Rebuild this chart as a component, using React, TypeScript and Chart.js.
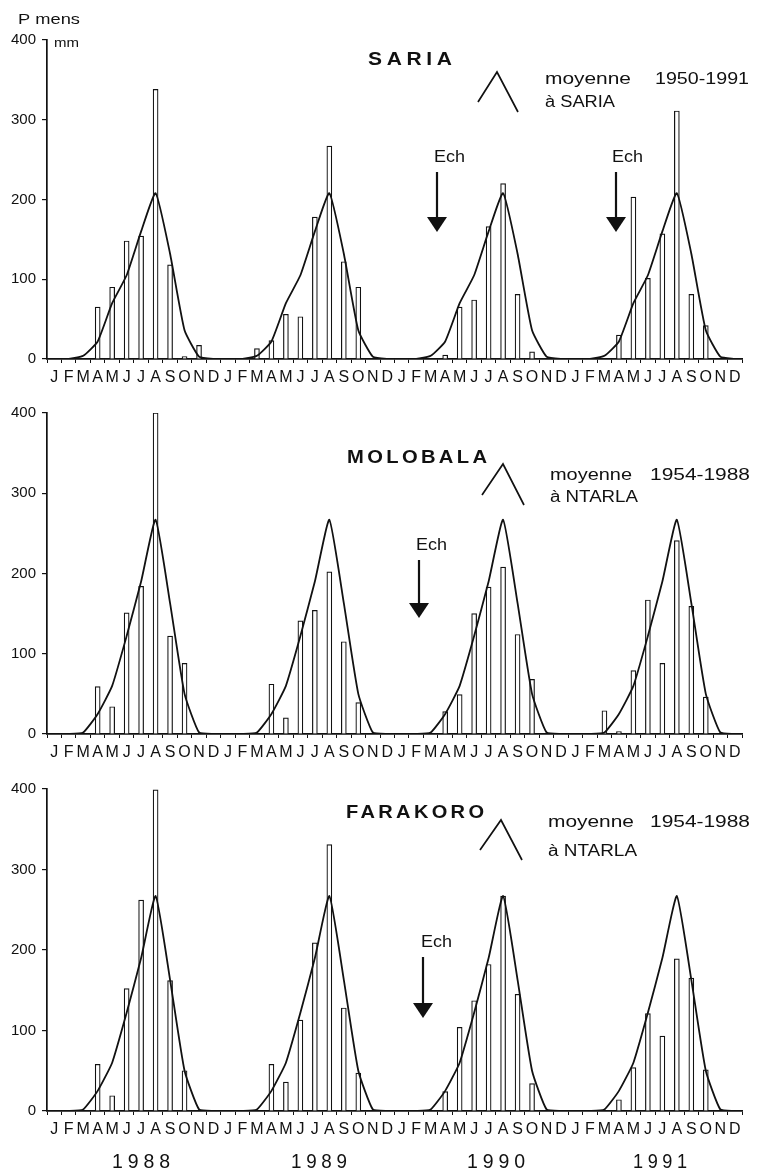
import React, { useEffect, useRef } from 'react';
import { Chart, registerables } from 'chart.js';

Chart.register(...registerables);

const FONT = '"Liberation Sans", Arial, Helvetica, sans-serif';

// ---- data ----
const monthLetters = ['J', 'F', 'M', 'A', 'M', 'J', 'J', 'A', 'S', 'O', 'N', 'D'];
const yearLabels = ['1988', '1989', '1990', '1991'];

// monthly means (mm), same curve drawn each year
const sariaMean = [0, 0, 4, 22, 70, 105, 160, 208, 132, 36, 3, 0];
const ntarlaMean = [0, 0, 2, 25, 60, 122, 190, 267, 163, 50, 2, 0];

// SARIA monthly rainfall (mm)
const saria1988 = [0, 0, 0, 65, 90, 148, 154, 338, 118, 3, 17, 0];
const saria1989 = [0, 0, 13, 23, 56, 53, 178, 267, 122, 90, 0, 0];
const saria1990 = [0, 0, 0, 5, 65, 74, 166, 220, 81, 9, 0, 0];
const saria1991 = [0, 0, 0, 30, 203, 101, 157, 311, 81, 42, 0, 0];

// MOLOBALA monthly rainfall (mm)
const molobala1988 = [0, 0, 0, 59, 34, 151, 184, 400, 122, 88, 0, 0];
const molobala1989 = [0, 0, 0, 62, 20, 141, 154, 202, 115, 39, 0, 0];
const molobala1990 = [0, 0, 0, 28, 49, 150, 183, 208, 124, 68, 0, 0];
const molobala1991 = [0, 0, 29, 3, 79, 167, 88, 241, 159, 46, 0, 0];

// FARAKORO monthly rainfall (mm)
const farakoro1988 = [0, 0, 0, 58, 19, 152, 262, 399, 162, 50, 0, 0];
const farakoro1989 = [0, 0, 0, 58, 36, 113, 209, 331, 128, 47, 0, 0];
const farakoro1990 = [0, 0, 0, 24, 104, 137, 182, 267, 145, 34, 0, 0];
const farakoro1991 = [0, 0, 0, 14, 54, 121, 93, 189, 165, 51, 0, 0];

const yTickValues = [0, 100, 200, 300, 400];

// ---- helpers ----
const labels48: string[] = [];
for (let y = 0; y < 4; y++) for (const m of monthLetters) labels48.push(m);

const toBars = (...years: number[][]) =>
  ([] as number[]).concat(...years).map((v) => (v === 0 ? null : v));
const repeatMean = (m: number[]) => ([] as number[]).concat(m, m, m, m);

type TextItem = {
  t: string; x: number; y: number; size: number; w?: number;
  bold?: boolean; spacing?: number; center?: boolean;
};
type Arrow = { x: number; y0: number; y1: number; y2: number };
type Decor = {
  texts: TextItem[];
  chevron: number[][];
  arrows: Arrow[];
};

function drawText(ctx: CanvasRenderingContext2D, it: TextItem) {
  ctx.save();
  ctx.font = `${it.bold ? 'bold ' : ''}${it.size}px ${FONT}`;
  (ctx as any).letterSpacing = `${it.spacing || 0}px`;
  const m = ctx.measureText(it.t).width - (it.spacing || 0);
  const sx = it.w ? it.w / m : 1;
  ctx.translate(it.x, it.y);
  ctx.scale(sx, 1);
  ctx.fillStyle = '#111';
  ctx.textAlign = 'left';
  ctx.textBaseline = 'alphabetic';
  ctx.fillText(it.t, it.center ? -m / 2 : 0, 0);
  ctx.restore();
}

function makeDecorPlugin(top: number, decor: Decor) {
  return {
    id: 'decor',
    afterDraw(chart: Chart) {
      const ctx = chart.ctx;
      ctx.save();
      ctx.translate(0, -top);
      for (const it of decor.texts) drawText(ctx, it);
      // legend chevron
      ctx.strokeStyle = '#111';
      ctx.lineWidth = 1.7;
      ctx.beginPath();
      decor.chevron.forEach((p, i) => (i === 0 ? ctx.moveTo(p[0], p[1]) : ctx.lineTo(p[0], p[1])));
      ctx.stroke();
      // Ech arrows
      for (const a of decor.arrows) {
        ctx.lineWidth = 2.2;
        ctx.beginPath();
        ctx.moveTo(a.x, a.y0);
        ctx.lineTo(a.x, a.y1 + 2);
        ctx.stroke();
        ctx.fillStyle = '#111';
        ctx.beginPath();
        ctx.moveTo(a.x - 10, a.y1);
        ctx.lineTo(a.x + 10, a.y1);
        ctx.lineTo(a.x, a.y2);
        ctx.closePath();
        ctx.fill();
      }
      ctx.restore();
    },
  };
}

type PanelDef = {
  top: number; height: number; padTop: number; xHeight: number;
  bars: (number | null)[]; mean: number[]; decor: Decor;
};

const panels: PanelDef[] = [
  {
    top: 0, height: 390, padTop: 40, xHeight: 31,
    bars: toBars(saria1988, saria1989, saria1990, saria1991),
    mean: repeatMean(sariaMean),
    decor: {
      texts: [
        { t: 'P mens', x: 18, y: 24, size: 15, w: 62 },
        { t: 'mm', x: 54, y: 47, size: 13, w: 25 },
        { t: 'SARIA', x: 368, y: 65, size: 18, bold: true, spacing: 4, w: 84 },
        { t: 'moyenne', x: 545, y: 84, size: 17, w: 86 },
        { t: '1950-1991', x: 655, y: 84, size: 17, w: 94 },
        { t: 'à SARIA', x: 545, y: 107, size: 16, w: 70 },
        { t: 'Ech', x: 434, y: 162, size: 16, w: 31 },
        { t: 'Ech', x: 612, y: 162, size: 16, w: 31 },
      ],
      chevron: [[478, 102], [497, 72], [518, 112]],
      arrows: [
        { x: 437, y0: 172, y1: 217, y2: 232 },
        { x: 616, y0: 172, y1: 217, y2: 232 },
      ],
    },
  },
  {
    top: 390, height: 375, padTop: 23, xHeight: 31,
    bars: toBars(molobala1988, molobala1989, molobala1990, molobala1991),
    mean: repeatMean(ntarlaMean),
    decor: {
      texts: [
        { t: 'MOLOBALA', x: 347, y: 463, size: 18, bold: true, spacing: 3, w: 140 },
        { t: 'moyenne', x: 550, y: 480, size: 17, w: 82 },
        { t: '1954-1988', x: 650, y: 480, size: 17, w: 100 },
        { t: 'à NTARLA', x: 550, y: 502, size: 16, w: 88 },
        { t: 'Ech', x: 416, y: 550, size: 16, w: 31 },
      ],
      chevron: [[482, 495], [503, 464], [524, 505]],
      arrows: [{ x: 419, y0: 560, y1: 603, y2: 618 }],
    },
  },
  {
    top: 765, height: 408, padTop: 24, xHeight: 62,
    bars: toBars(farakoro1988, farakoro1989, farakoro1990, farakoro1991),
    mean: repeatMean(ntarlaMean),
    decor: {
      texts: [
        { t: 'FARAKORO', x: 346, y: 818, size: 18, bold: true, spacing: 3, w: 138 },
        { t: 'moyenne', x: 548, y: 827, size: 17, w: 86 },
        { t: '1954-1988', x: 650, y: 827, size: 17, w: 100 },
        { t: 'à NTARLA', x: 548, y: 856, size: 16, w: 89 },
        { t: 'Ech', x: 421, y: 947, size: 16, w: 31 },
        { t: yearLabels[0], x: 141, y: 1168, size: 20, spacing: 5, w: 58, center: true },
        { t: yearLabels[1], x: 319, y: 1168, size: 20, spacing: 5, w: 56, center: true },
        { t: yearLabels[2], x: 496, y: 1168, size: 20, spacing: 5, w: 58, center: true },
        { t: yearLabels[3], x: 660, y: 1168, size: 20, spacing: 5, w: 54, center: true },
      ],
      chevron: [[480, 850], [501, 820], [522, 860]],
      arrows: [{ x: 423, y0: 957, y1: 1003, y2: 1018 }],
    },
  },
];

export default function App() {
  const refs = [useRef<HTMLCanvasElement>(null), useRef<HTMLCanvasElement>(null), useRef<HTMLCanvasElement>(null)];

  useEffect(() => {
    const charts: Chart[] = [];
    panels.forEach((p, idx) => {
      const canvas = refs[idx].current;
      if (!canvas) return;
      const chart = new Chart(canvas, {
        type: 'bar',
        data: {
          labels: labels48,
          datasets: [
            {
              type: 'line',
              label: 'moyenne',
              data: p.mean,
              borderColor: '#111',
              borderWidth: 1.8,
              pointRadius: 0,
              fill: false,
              tension: 0.15,
              order: 0,
            } as any,
            {
              type: 'bar',
              label: 'P mens',
              data: p.bars,
              backgroundColor: '#ffffff',
              borderColor: '#111',
              borderWidth: 1.2,
              barThickness: 5,
              order: 1,
            } as any,
          ],
        },
        options: {
          responsive: false,
          animation: false,
          events: [],
          layout: { padding: { top: p.padTop, right: 19, bottom: 0, left: 0 } },
          plugins: { legend: { display: false }, tooltip: { enabled: false } },
          scales: {
            x: {
              offset: true,
              grid: {
                display: true, offset: true, drawOnChartArea: false, drawTicks: true,
                tickLength: 4, color: '#111', lineWidth: 1,
              },
              border: { display: true, color: '#111', width: 1.7 },
              ticks: {
                autoSkip: false, maxRotation: 0, minRotation: 0, padding: 5,
                color: '#111', font: { family: FONT, size: 16 },
              },
              afterFit: (s: any) => { s.height = p.xHeight; },
            },
            y: {
              min: 0, max: 400,
              afterBuildTicks: (s: any) => { s.ticks = yTickValues.map((v) => ({ value: v })); },
              ticks: { padding: 6, color: '#111', font: { family: FONT, size: 15 } },
              grid: { drawOnChartArea: false, tickLength: 5, color: '#111', lineWidth: 1.2 },
              border: { color: '#111', width: 1.7 },
              afterFit: (s: any) => { s.width = 47; },
            },
          },
        },
        plugins: [makeDecorPlugin(p.top, p.decor)],
      } as any);
      charts.push(chart);
    });
    return () => charts.forEach((c) => c.destroy());
  }, []);

  return (
    <div style={{ position: 'absolute', left: 0, top: 0, width: 761, height: 1173, background: '#fff' }}>
      {panels.map((p, i) => (
        <canvas
          key={i}
          ref={refs[i]}
          width={761}
          height={p.height}
          style={{ position: 'absolute', left: 0, top: p.top, width: 761, height: p.height, display: 'block' }}
        />
      ))}
    </div>
  );
}
